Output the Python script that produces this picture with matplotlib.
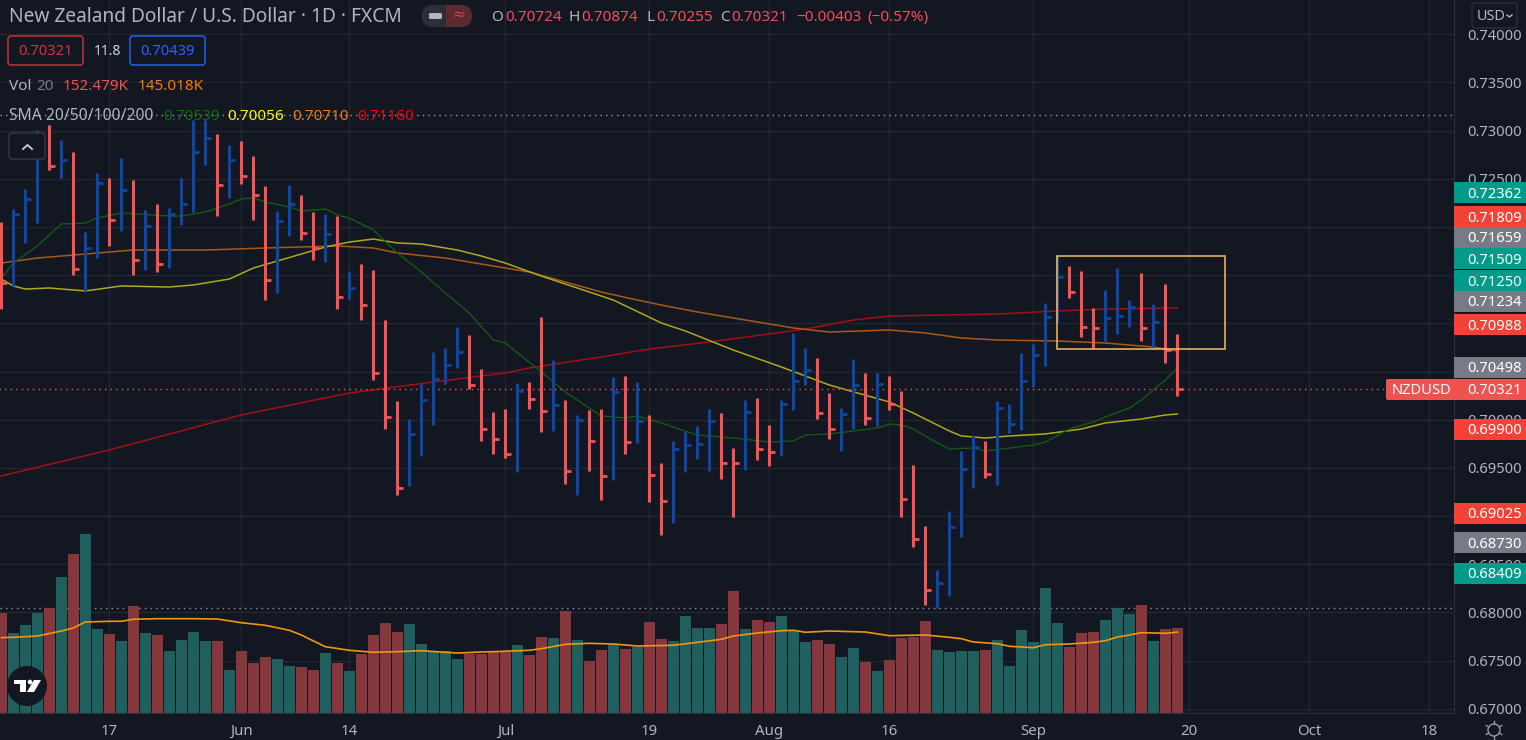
import numpy as np
import matplotlib
matplotlib.use("Agg")
import matplotlib.pyplot as plt
from matplotlib.patches import FancyBboxPatch, Rectangle, Circle, Polygon

plt.rcParams['font.family'] = ['Noto Sans', 'DejaVu Sans']

# price bars, one per trading day
bar_dir = ("rbbbrbrbbr" "brbrbbbbrb" "rrrbbrrbrb" "rrrrbbbbbr" "rrrbrrbrbr"
           "rbrbrrbbbb" "rrbrrbbbrr" "bbrbrrrrbb" "bbrbbbbbbr" "rrbbbrbrr")

highs = [0.72052, 0.72187, 0.72394, 0.73007, 0.73059, 0.72903, 0.72778, 0.71948, 0.72560, 0.72509,
         0.72716, 0.72488, 0.72176, 0.72239, 0.72197, 0.72509, 0.73111, 0.73111, 0.72965, 0.72851,
         0.72893, 0.72737, 0.72426, 0.72166, 0.72436, 0.72332, 0.72156, 0.72135, 0.72114, 0.71543,
         0.71616, 0.71554, 0.71035, 0.70194, 0.70007, 0.70370, 0.70703, 0.70744, 0.70962, 0.70879,
         0.70526, 0.70080, 0.70111, 0.70381, 0.70391, 0.71066, 0.70620, 0.70204, 0.70049, 0.70101,
         0.70111, 0.70443, 0.70453, 0.70391, 0.70049, 0.69551, 0.69779, 0.69872, 0.69935, 0.70111,
         0.70069, 0.69706, 0.70204, 0.70225, 0.69945, 0.70204, 0.70900, 0.70744, 0.70640, 0.70277,
         0.70121, 0.70630, 0.70485, 0.70485, 0.70453, 0.70298, 0.69530, 0.68897, 0.68440, 0.69052,
         0.69675, 0.69841, 0.69779, 0.70194, 0.70163, 0.70692, 0.70786, 0.71211, 0.71709, 0.71595,
         0.71543, 0.71159, 0.71346, 0.71574, 0.71242, 0.71523, 0.71201, 0.71408, 0.70889]

lows = [0.71149, 0.71388, 0.71834, 0.72041, 0.72592, 0.72509, 0.71502, 0.71336, 0.71678, 0.71803,
        0.71958, 0.71502, 0.71554, 0.71533, 0.71574, 0.72021, 0.72156, 0.72643, 0.72114, 0.72301,
        0.72446, 0.72073, 0.71242, 0.71315, 0.71907, 0.71865, 0.71657, 0.71637, 0.71149, 0.71253,
        0.71035, 0.70412, 0.69903, 0.69218, 0.69312, 0.69623, 0.69945, 0.70370, 0.70537, 0.70319,
        0.69779, 0.69644, 0.69602, 0.69457, 0.70111, 0.69872, 0.69883, 0.69333, 0.69218, 0.69467,
        0.69166, 0.69374, 0.69644, 0.69758, 0.69146, 0.68803, 0.68928, 0.69457, 0.69592, 0.69467,
        0.69384, 0.68990, 0.69478, 0.69582, 0.69519, 0.69623, 0.70101, 0.70360, 0.70007, 0.69800,
        0.69675, 0.69903, 0.69945, 0.69935, 0.70101, 0.68990, 0.68679, 0.68077, 0.68046, 0.68170,
        0.68782, 0.69291, 0.69395, 0.69322, 0.69862, 0.69893, 0.70339, 0.70557, 0.71004, 0.71263,
        0.70858, 0.70744, 0.70817, 0.70889, 0.70962, 0.70817, 0.70734, 0.70588, 0.70246]

closes = [0.71419, 0.72135, 0.72291, 0.72747, 0.72633, 0.72695, 0.71564, 0.71782, 0.72457, 0.72073,
          0.72384, 0.71657, 0.72010, 0.71616, 0.72135, 0.72239, 0.72778, 0.72924, 0.72436, 0.72695,
          0.72529, 0.72332, 0.71450, 0.72062, 0.72239, 0.71938, 0.71782, 0.71927, 0.71273, 0.71367,
          0.71190, 0.70485, 0.70028, 0.69291, 0.69852, 0.70204, 0.70422, 0.70568, 0.70703, 0.70360,
          0.69903, 0.69800, 0.69644, 0.70298, 0.70215, 0.70090, 0.70153, 0.69467, 0.69997, 0.69779,
          0.69416, 0.70287, 0.69768, 0.69986, 0.69426, 0.69156, 0.69696, 0.69737, 0.69748, 0.69986,
          0.69551, 0.69551, 0.70080, 0.69696, 0.69665, 0.70163, 0.70402, 0.70516, 0.70069, 0.69903,
          0.70059, 0.70360, 0.70018, 0.70370, 0.70163, 0.69177, 0.68762, 0.68232, 0.68305, 0.68886,
          0.69488, 0.69717, 0.69436, 0.70121, 0.69955, 0.70402, 0.70671, 0.71066, 0.71481, 0.71325,
          0.70962, 0.70952, 0.71055, 0.71076, 0.71170, 0.70952, 0.71014, 0.70723, 0.70321]

# volume in thousands
volumes = [179.4, 143.5, 157.9, 179.4, 188.4, 244.0, 285.2, 321.1, 150.7, 141.7,
           129.2, 192.0, 143.5, 139.9, 111.2, 131.0, 145.3, 129.2, 129.2, 77.1,
           111.2, 89.7, 100.5, 96.9, 84.3, 82.5, 77.1, 107.6, 89.7, 75.3,
           105.8, 139.9, 161.5, 145.3, 159.7, 123.8, 111.2, 111.2, 96.9, 105.8,
           105.8, 109.4, 109.4, 122.0, 104.1, 136.3, 134.6, 183.0, 131.0, 93.3,
           113.0, 123.8, 114.8, 118.4, 163.3, 132.8, 129.2, 174.0, 152.5, 152.5,
           159.7, 218.9, 150.7, 166.8, 163.3, 174.0, 147.1, 127.4, 131.0, 123.8,
           100.5, 116.6, 91.5, 75.3, 95.1, 134.6, 136.3, 165.0, 113.0, 109.4,
           111.2, 111.2, 113.0, 131.0, 84.3, 148.9, 127.4, 224.3, 161.5, 118.4,
           143.5, 145.3, 166.8, 188.4, 177.6, 193.8, 129.2, 150.7, 152.5]

vol_sma_idx = [0, 1, 3, 5, 6, 7, 9, 10, 11, 13, 16, 18, 20, 22, 24, 25, 27, 29, 31, 33, 35, 37, 38, 40, 41,
               44, 45, 47, 49, 51, 53, 56, 58, 60, 61, 63, 65, 66, 67, 69, 72, 74, 77, 79, 80, 81, 83,
               84, 86, 87, 89, 91, 92, 93, 94, 95, 97, 98]
vol_sma = [135.2, 135.8, 138.1, 147.1, 152.5, 163.3, 164.5, 164.5, 168.1, 169.2, 169.2, 168.6, 162.0, 157.3,
           148.4, 139.9, 118.9, 112.5, 108.9, 110.0, 111.8, 108.9, 107.6, 109.4, 110.0,
           112.5, 115.4, 123.2, 125.0, 123.8, 120.2, 121.5, 126.8, 132.2, 138.1, 143.5, 147.6, 148.4, 144.8,
           147.1, 145.3, 138.7, 139.9, 135.8, 133.3, 127.4, 124.3,
           119.7, 117.1, 122.5, 123.8, 126.8, 129.7, 136.3, 139.9, 144.1, 143.0, 145.0]

sma20_idx = [0, 1, 3, 5, 7, 8, 10, 14, 15, 17, 19, 20, 21, 22, 24, 25, 27, 28, 29, 31, 33, 35, 37, 38, 39,
             41, 42, 45, 47, 50, 52, 53, 55, 58, 61, 64, 66, 67, 69, 73, 74, 75, 76, 78, 79, 81, 82, 84,
             86, 87, 89, 91, 92, 94, 95, 97, 98]
sma20 = [0.71471, 0.71626, 0.71803, 0.72031, 0.72041, 0.72093, 0.72145, 0.72114, 0.72114, 0.72156,
         0.72239, 0.72291, 0.72301, 0.72259, 0.72208, 0.72166, 0.72187, 0.72125, 0.72093, 0.71969,
         0.71730, 0.71533, 0.71315, 0.71211, 0.71107, 0.70827, 0.70796, 0.70495, 0.70287, 0.70038,
         0.70018, 0.70038, 0.69966, 0.69841, 0.69810, 0.69768, 0.69779, 0.69841, 0.69852, 0.69914,
         0.69955, 0.69945, 0.69903, 0.69758, 0.69696, 0.69706, 0.69675, 0.69706, 0.69737, 0.69768,
         0.69903, 0.69976, 0.70028, 0.70121, 0.70204, 0.70412, 0.70537]

sma50_idx = [0, 1, 2, 4, 7, 10, 14, 16, 19, 21, 23, 27, 29, 31, 33, 35, 38, 40, 42, 45, 51, 55, 57, 61, 65,
             69, 74, 76, 79, 80, 82, 84, 87, 90, 92, 95, 97, 98]
sma50 = [0.71460, 0.71388, 0.71356, 0.71367, 0.71336, 0.71388, 0.71377, 0.71398, 0.71460, 0.71574,
         0.71647, 0.71792, 0.71844, 0.71875, 0.71834, 0.71824, 0.71761, 0.71699, 0.71626, 0.71491,
         0.71242, 0.71004, 0.70921, 0.70723, 0.70547, 0.70360, 0.70184, 0.70069, 0.69883, 0.69831,
         0.69810, 0.69831, 0.69852, 0.69903, 0.69966, 0.70007, 0.70049, 0.70059]

sma100_idx = [0, 3, 6, 11, 17, 22, 28, 31, 33, 37, 42, 44, 50, 53, 55, 58, 66, 69, 74, 77, 80, 83, 88, 92, 96, 98]
sma100 = [0.71626, 0.71678, 0.71709, 0.71761, 0.71761, 0.71782, 0.71803, 0.71782, 0.71730, 0.71678,
          0.71574, 0.71533, 0.71325, 0.71242, 0.71190, 0.71118, 0.70952, 0.70910, 0.70931, 0.70900,
          0.70848, 0.70827, 0.70817, 0.70796, 0.70754, 0.70713]

sma200_idx = [0, 9, 20, 29, 36, 42, 44, 50, 54, 59, 67, 71, 74, 83, 88, 92, 98]
sma200 = [0.69416, 0.69686, 0.70049, 0.70277, 0.70391, 0.70485, 0.70537, 0.70651, 0.70734, 0.70806,
          0.70941, 0.71035, 0.71076, 0.71097, 0.71128, 0.71149, 0.71159]

price_ticks = [0.67, 0.675, 0.68, 0.685, 0.69, 0.695, 0.70, 0.705, 0.71, 0.715, 0.72, 0.725, 0.73, 0.735, 0.74]
# these sit fully behind a label on the scale, as in the screenshot
hidden_ticks = [0.69, 0.705, 0.71, 0.715, 0.72]
time_ticks = [9, 20, 29, 42, 54, 64, 74, 86, 99, 109, 119]
time_labels = ['17', 'Jun', '14', 'Jul', '19', 'Aug', '16', 'Sep', '20', 'Oct', '18']
month_labels = ['Jun', 'Jul', 'Aug', 'Sep', 'Oct']

last_price = 0.70321
high_line = 0.73162
low_line = 0.68049
box_left, box_right = 88.0, 102.0
box_top, box_bottom = 0.71696, 0.70731

# label on the price scale: text, colour, top and bottom pixel
badges = [('0.72362', '#009b8a', 182, 203), ('0.71809', '#f44336', 206, 227), ('0.71659', '#787b86', 227, 248),
          ('0.71509', '#009b8a', 248, 269), ('0.71250', '#009b8a', 270, 291), ('0.71234', '#787b86', 291, 312),
          ('0.70988', '#f44336', 314, 335), ('0.70498', '#787b86', 357, 378), ('0.70321', '#ef5350', 379, 400),
          ('0.69900', '#f44336', 419, 440), ('0.69025', '#f44336', 503, 524), ('0.68730', '#787b86', 532, 553),
          ('0.68409', '#009b8a', 563, 584)]

BG = '#131722'
GRID = '#232732'
RED = '#f65353'
BLUE = '#0d47a1'
GREY = '#b2b5be'

fig = plt.figure(figsize=(15.26, 7.40), dpi=100, facecolor=BG)
ax = fig.add_axes([0, 27 / 740, 1454 / 1526, 713 / 740])
ax.set_facecolor(BG)
ax.set_xlim(-1.33 / 12, (1454 - 1.33) / 12)
ax.set_ylim(0.74356 - 713 * 0.00010379, 0.74356)

# volume pane sits on the same area with its own scale
vax = ax.twinx()
vax.set_ylim(0, 713 * 1.794)
vax.patch.set_visible(False)
vax.set_yticks([])
for s in vax.spines.values():
    s.set_visible(False)

ax.yaxis.tick_right()
ax.set_yticks(price_ticks)
ax.set_yticklabels(['' if p in hidden_ticks else '%.5f' % p for p in price_ticks])
ax.set_xticks(time_ticks)
ax.set_xticklabels(time_labels)
ax.tick_params(axis='y', length=0, pad=9.4, labelsize=10.6, labelcolor=GREY)
ax.tick_params(axis='x', length=0, pad=8, labelsize=10.8, labelcolor=GREY)
for lab in ax.get_xticklabels():
    if lab.get_text() in month_labels:
        lab.set_fontweight('bold')
ax.grid(True, color=GRID, lw=0.9)
ax.set_axisbelow(True)
for s in ['top', 'left']:
    ax.spines[s].set_visible(False)
ax.spines['right'].set_color('#2a2e39')
ax.spines['bottom'].set_color('#2a2e39')

x = np.arange(len(closes))
colors = [RED if d == 'r' else BLUE for d in bar_dir]

ax.plot(sma200_idx, sma200, color='#a30f16', lw=1.1, zorder=2)
ax.plot(sma100_idx, sma100, color='#a8591a', lw=1.1, zorder=2)
ax.plot(sma50_idx, sma50, color='#adA81c', lw=1.1, zorder=2)
ax.plot(sma20_idx, sma20, color='#125a13', lw=1.0, zorder=2)

ax.vlines(x, lows, highs, colors=colors, lw=2.2, zorder=3, capstyle='butt')
ax.hlines(closes, x, x + 0.47, colors=colors, lw=2.0, zorder=3, capstyle='butt')

ax.plot([-1, 1386 / 12], [last_price, last_price], color=RED, lw=1, dashes=(1, 3), zorder=2)
ax.axhline(high_line, color='#9598a1', lw=1, dashes=(1, 3), zorder=2)
ax.axhline(low_line, color='#9598a1', lw=1, dashes=(1, 3), zorder=5)

ax.add_patch(Rectangle((box_left, box_bottom), box_right - box_left, box_top - box_bottom,
                       fill=False, ec='#f7bd63', lw=1.1, zorder=4))

vol_colors = ['#85373b' if d == 'r' else '#1f605f' for d in bar_dir]
vax.bar(x, volumes, width=0.92, color=vol_colors, linewidth=0, zorder=2)
vax.plot(vol_sma_idx, vol_sma, color='#f1950f', lw=1.2, zorder=3)

# header, legend and buttons use pixel positions
ov = fig.add_axes([0, 0, 1, 1], zorder=10)
ov.set_xlim(0, 1526)
ov.set_ylim(740, 0)
ov.axis('off')


def label(px, py, s, color=GREY, size=11, ha='left', **kw):
    ov.text(px, py + 1.5, s, color=color, fontsize=size, ha=ha, va='center', **kw)


def rbox(x0, y0, w, h, ec, fc=BG, r=3, lw=1.0):
    ov.add_patch(FancyBboxPatch((x0 + r, y0 + r), w - 2 * r, h - 2 * r, boxstyle='round,pad=%d' % r,
                                ec=ec, fc=fc, lw=lw))


label(9, 16, 'New Zealand Dollar / U.S. Dollar · 1D · FXCM', size=13.8)

# visibility pill
ov.add_patch(FancyBboxPatch((433, 16), 28, 0.01, boxstyle='round,pad=11', ec='none', fc='#5a2a30'))
pill = FancyBboxPatch((433, 16), 28, 0.01, boxstyle='round,pad=11', ec='none', fc='#2a2e39')
ov.add_patch(pill)
pill.set_clip_path(Rectangle((420, 0), 26, 40, transform=ov.transData))
ov.add_patch(FancyBboxPatch((430.5, 14.5), 10, 3, boxstyle='round,pad=1.5', ec='none', fc='#b2b5be'))
label(458.5, 14, '≈', color='#d6474c', size=11, ha='center')

for px, s in [(491, 'O'), (569, 'H'), (646, 'L'), (720, 'C')]:
    label(px, 16, s)
for px, s in [(505, '0.70724'), (581, '0.70874'), (656, '0.70255'), (731, '0.70321'),
              (796, '−0.00403'), (867, '(−0.57%)')]:
    label(px, 16, s, color='#f05056')

rbox(8, 36, 75, 29, '#d5353a')
label(18, 50, '0.70321', color='#d5353a', size=10.6)
label(94, 50, '11.8', color='#d1d4dc', size=10)
rbox(130, 36, 75, 29, '#2962ff')
label(140, 50, '0.70439', color='#2962ff', size=10.6)

label(9, 85, 'Vol')
label(36, 85, '20', color='#787b86')
label(63, 85, '152.479K', color='#ef5350')
label(138, 85, '145.018K', color='#f57c00')

label(9, 115, 'SMA 20/50/100/200', size=11.3)
label(163, 115, '0.70539', color='#0f6b0f')
label(227, 115, '0.70056', color='#ffff00')
label(292, 115, '0.70710', color='#f57c00')
label(357, 115, '0.71160', color='#ff0000')

rbox(9, 133, 36, 26, '#363a45', fc=BG)
ov.plot([23, 27.5, 32], [149, 145, 149], color='#d1d4dc', lw=1.3)

# logo
ov.add_patch(Circle((27, 686), 20, fc=BG, ec='none'))
ov.add_patch(Polygon([(14, 680), (26, 680), (26, 692), (20, 692), (20, 683.5), (14, 683.5)], fc='white', ec='none'))
ov.add_patch(Circle((30, 682), 2.3, fc='white', ec='none'))
ov.add_patch(Polygon([(34, 680), (41, 680), (34, 692), (27, 692)], fc='white', ec='none'))

# price scale labels
rbox(1472, 3, 45, 25, '#2a2e39', fc=BG)
label(1477, 15, 'USD', size=10.4)
ov.plot([1507, 1509.5, 1512], [15, 17, 15], color=GREY, lw=1)

ov.add_patch(FancyBboxPatch((1388, 381), 20, 17, boxstyle='round,pad=2', ec='none', fc='#ef5350'))
ov.add_patch(Rectangle((1400, 379), 54, 21, ec='none', fc='#ef5350'))
label(1392, 389.5, 'NZDUSD', color='white', size=10.6)
for s, col, y0, y1 in badges:
    ov.add_patch(Rectangle((1454, y0), 72, y1 - y0, ec='none', fc=col))
    label(1467, (y0 + y1) / 2, s, color='white', size=10.6, fontweight='medium')

# sun icon
ov.add_patch(Circle((1494, 730), 6, fc='none', ec='#9598a1', lw=1))
for a in np.arange(0, 360, 60):
    c, s = np.cos(np.radians(a + 30)), np.sin(np.radians(a + 30))
    ov.plot([1494 + 6 * c, 1494 + 9 * c], [730 + 6 * s, 730 + 9 * s], color='#9598a1', lw=1)

fig.savefig('out.png', dpi=100, facecolor=BG)
